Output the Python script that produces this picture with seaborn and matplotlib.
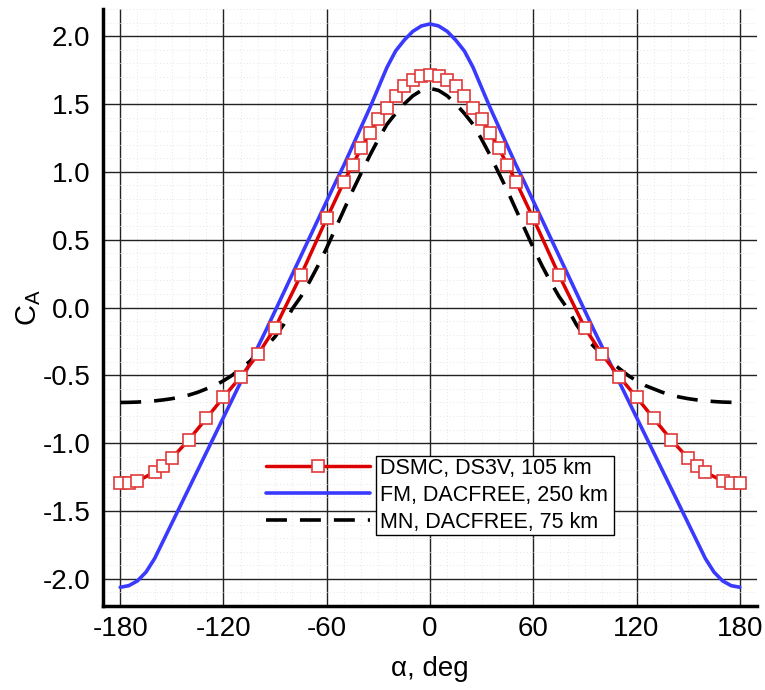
import matplotlib
matplotlib.use("Agg")
import matplotlib.pyplot as plt
from matplotlib.patches import Rectangle
from matplotlib.ticker import MultipleLocator
import numpy as np
import pandas as pd
import seaborn as sns

# ---- data ----
dsmc_alpha_pos = [0, 5, 10, 15, 20, 25, 30, 35, 40, 45, 50, 60, 75, 90, 100, 110,
                  120, 130, 140, 150, 155, 160, 170, 175, 180]
dsmc_ca_pos = [1.714, 1.705, 1.678, 1.630, 1.562, 1.472, 1.390, 1.286, 1.173, 1.050,
               0.927, 0.657, 0.238, -0.150, -0.346, -0.510, -0.661, -0.818, -0.973,
               -1.111, -1.169, -1.213, -1.280, -1.292, -1.297]

fm_alpha_pos = list(range(0, 185, 5))
fm_ca_pos = [2.090, 2.075, 2.035, 1.970, 1.890, 1.770, 1.620, 1.470, 1.330, 1.190,
             1.050, 0.920, 0.785, 0.650, 0.515, 0.380, 0.245, 0.110, -0.025, -0.160,
             -0.290, -0.420, -0.550, -0.680, -0.810, -0.940, -1.070, -1.200, -1.330,
             -1.460, -1.590, -1.720, -1.850, -1.950, -2.015, -2.050, -2.062]

mn_alpha_pos = list(range(0, 185, 5))
mn_ca_pos = [1.615, 1.600, 1.560, 1.500, 1.430, 1.350, 1.240, 1.120, 0.990, 0.860,
             0.720, 0.580, 0.440, 0.310, 0.190, 0.080, -0.010, -0.125, -0.215, -0.285,
             -0.345, -0.400, -0.450, -0.500, -0.540, -0.575, -0.600, -0.625, -0.645,
             -0.660, -0.672, -0.681, -0.688, -0.693, -0.697, -0.699, -0.700]

labels = ["DSMC, DS3V, 105 km", "FM, DACFREE, 250 km", "MN, DACFREE, 75 km"]
xticks = [-180, -120, -60, 0, 60, 120, 180]
yticks = [-2.0, -1.5, -1.0, -0.5, 0.0, 0.5, 1.0, 1.5, 2.0]


def mirror(a, v):
    a = np.asarray(a, float)
    v = np.asarray(v, float)
    return np.concatenate([-a[:0:-1], a]), np.concatenate([v[:0:-1], v])


frames = []
for lab, (a, v) in zip(labels, [(dsmc_alpha_pos, dsmc_ca_pos),
                                (fm_alpha_pos, fm_ca_pos),
                                (mn_alpha_pos, mn_ca_pos)]):
    xa, ya = mirror(a, v)
    frames.append(pd.DataFrame({"alpha": xa, "CA": ya, "case": lab}))

# ---- style ----
sns.set_theme(style="white")
plt.rcParams["font.family"] = ["Liberation Sans", "DejaVu Sans"]
plt.rcParams["mathtext.fontset"] = "custom"
plt.rcParams["mathtext.rm"] = "Liberation Sans"
plt.rcParams["mathtext.it"] = "Liberation Sans"

fig = plt.figure(figsize=(7.65, 6.9), dpi=100)
ax = fig.add_axes([103 / 765, 1 - 606 / 690, (757 - 103) / 765, (606 - 9) / 690])

red = "#dd0000"
blue = "#3a3aff"

sns.lineplot(data=frames[1], x="alpha", y="CA", ax=ax, color=blue, lw=2.6,
             sort=False, estimator=None, label=labels[1], zorder=3)
sns.lineplot(data=frames[2], x="alpha", y="CA", ax=ax, color="black", lw=2.6,
             sort=False, estimator=None, label=labels[2], zorder=3,
             dashes=False)
ax.lines[-1].set_dashes([5.8, 3.6])
sns.lineplot(data=frames[0], x="alpha", y="CA", ax=ax, color=red, lw=2.5,
             sort=False, estimator=None, label=labels[0], zorder=4,
             marker="s", markersize=8, markerfacecolor="white",
             markeredgecolor="#e03a3a", markeredgewidth=1.2)

ax.set_xlim(-190, 190)
ax.set_ylim(-2.2, 2.2)
ax.set_xticks(xticks)
ax.set_xticklabels([f"{t:d}" for t in xticks])
ax.set_yticks(yticks)
ax.set_yticklabels([f"{t:.1f}" for t in yticks])
ax.xaxis.set_minor_locator(MultipleLocator(10))
ax.yaxis.set_minor_locator(MultipleLocator(0.1))

ax.grid(True, which="major", color="#222222", lw=1.0)
ax.grid(True, which="minor", color="#dddddd", lw=0.6, ls=(0, (1, 3)))
ax.set_axisbelow(True)

for s in ["top", "right"]:
    ax.spines[s].set_visible(False)
for s in ["left", "bottom"]:
    ax.spines[s].set_color("black")
    ax.spines[s].set_linewidth(2.5)

ax.tick_params(which="major", direction="in", length=11.5, width=2.2,
               labelsize=20, color="black", pad=7, labelcolor="black")
ax.tick_params(which="minor", direction="in", length=6.5, width=1.0,
               color="black")
ax.tick_params(axis="y", which="major", pad=9)

ax.set_xlabel("α, deg", fontsize=20, labelpad=10, color="black")
ax.set_ylabel(r"C$_{\rm A}$", fontsize=21, color="black",
              va="center", ha="center")
ax.yaxis.set_label_coords(-0.113, 0.5)

handles, labs = ax.get_legend_handles_labels()
order = [labs.index(l) for l in labels]
leg = ax.legend([handles[i] for i in order], [labs[i] for i in order],
                loc="upper left", bbox_to_anchor=(0.249, 0.248),
                frameon=False, fontsize=15.5, handlelength=4.85,
                handletextpad=0.45, labelspacing=0.28, borderpad=0,
                borderaxespad=0, numpoints=1)
leg.set_zorder(8)
for t in leg.get_texts():
    t.set_color("black")

fig.canvas.draw()
r = fig.canvas.get_renderer()
bbs = [t.get_window_extent(r) for t in leg.get_texts()]
x0 = min(b.x0 for b in bbs) - 4
x1 = max(b.x1 for b in bbs) + 6
y0 = min(b.y0 for b in bbs) - 2
y1 = max(b.y1 for b in bbs) + 2
inv = ax.transAxes.inverted()
(ax0, ay0), (ax1, ay1) = inv.transform([(x0, y0), (x1, y1)])
rect = Rectangle((ax0, ay0), ax1 - ax0, ay1 - ay0, transform=ax.transAxes,
                 facecolor="white", edgecolor="black", lw=1.0, zorder=7,
                 clip_on=False)
ax.add_patch(rect)

fig.savefig("out.png", dpi=100)
